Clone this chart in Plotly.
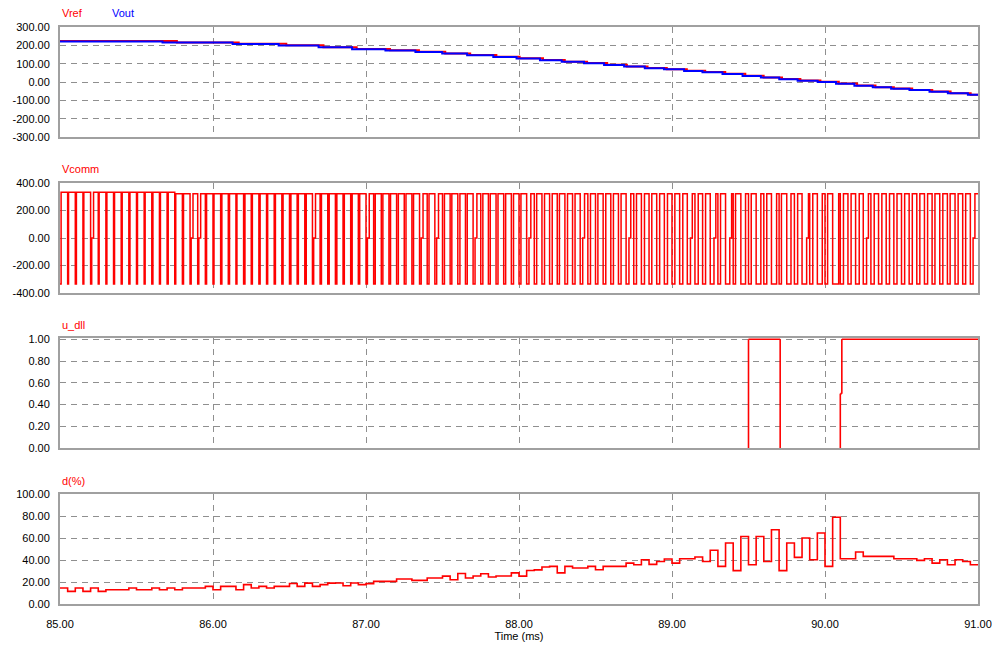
import plotly.graph_objects as go

# ---------------------------------------------------------------------------
# Simulation traces (time in ms)
# ---------------------------------------------------------------------------
T_START, T_END = 85.0, 91.0
PWM_PERIOD = 0.05          # ms, one switching period
ZERO_DWELL = 0.012         # ms, short stop at 0 V on some edges

# Output voltage staircase (step start times and held values)
vout_t = [85.000, 85.670, 86.128, 86.429, 86.690, 86.909, 87.127, 87.323, 87.498,
          87.661, 87.832, 87.984, 88.137, 88.279, 88.425, 88.556, 88.687, 88.822,
          88.948, 89.079, 89.199, 89.330, 89.461, 89.581, 89.701, 89.821, 89.952,
          90.072, 90.192, 90.312, 90.432, 90.552, 90.683, 90.803, 90.934]
vout_v = [221, 215, 207, 199, 189, 179, 172, 164, 155, 146, 137, 128, 119, 110,
          102, 93, 84, 75, 69, 60, 53, 44, 33, 24, 15, 7, 0, -9, -20, -29, -37,
          -44, -53, -62, -70]

# Reference voltage staircase (steps slightly after the output)
vref_t = [85.000, 85.764, 86.168, 86.479, 86.722, 86.939, 87.157, 87.346, 87.518,
          87.681, 87.852, 88.004, 88.157, 88.299, 88.445, 88.576, 88.705, 88.840,
          88.966, 89.097, 89.217, 89.348, 89.479, 89.599, 89.719, 89.839, 89.970,
          90.090, 90.210, 90.330, 90.450, 90.570, 90.701, 90.821, 90.952]
vref_v = [223, 216, 208, 200, 190, 180, 173, 165, 156, 147, 138, 129, 120, 111,
          103, 94, 85, 76, 70, 61, 54, 45, 34, 25, 16, 8, 1, -8, -19, -28, -36,
          -43, -52, -61, -69]

# Duty cycle per switching period, percent (120 periods from 85 ms)
d_pct = [14.5, 11.5, 14.5, 11.5, 14.5, 11.5, 13.0, 13.0, 13.0, 14.5,
         13.0, 13.0, 14.5, 13.0, 14.5, 13.0, 14.5, 14.5, 14.5, 16.0,
         13.0, 16.0, 16.0, 13.0, 17.6, 14.5, 16.0, 14.5, 16.0, 16.0,
         18.6, 16.0, 19.0, 16.0, 17.6, 19.0, 19.1, 16.6, 19.1, 17.6,
         18.5, 20.6, 20.6, 20.6, 22.7, 22.7, 21.5, 21.5, 23.7, 23.7,
         25.3, 22.0, 27.7, 23.7, 25.5, 27.5, 24.5, 25.5, 25.5, 28.3,
         25.3, 30.5, 31.0, 33.6, 34.2, 28.3, 34.2, 32.7, 32.7, 34.2,
         31.2, 34.2, 34.2, 34.2, 37.2, 35.7, 40.2, 36.0, 38.7, 40.9,
         37.2, 41.2, 41.2, 42.7, 38.7, 48.8, 34.2, 55.4, 30.3, 61.4,
         35.7, 61.4, 38.7, 67.5, 30.3, 55.4, 42.4, 60.0, 40.2, 64.5,
         34.2, 78.8, 41.2, 41.2, 47.3, 43.3, 43.3, 43.3, 43.3, 41.2,
         41.2, 41.2, 39.7, 41.2, 37.2, 40.2, 35.7, 40.2, 38.7, 35.7]

# Bridge voltage levels
vcomm_hi_t = [85.00, 85.72]
vcomm_hi_v = [332, 322]
vcomm_lo = -334
vcomm_zero_periods = [4, 17, 18, 33, 40, 47, 49, 54, 61, 68, 74, 82, 85, 87, 97, 105, 119]

# Logic signal u_dll
udll_t = [85.00, 89.50, 89.707, 90.10, 90.11, 91.00]
udll_v = [0, 1, 0, 0.5, 1, 1]

# Axis ticks
x_ticks = [85, 86, 87, 88, 89, 90, 91]
x_ticktext = ["85.00", "86.00", "87.00", "88.00", "89.00", "90.00", "91.00"]
y1_ticks = [-300, -200, -100, 0, 100, 200, 300]
y1_text = ["-300.00", "-200.00", "-100.00", "0.00", "100.00", "200.00", "300.00"]
y2_ticks = [-400, -200, 0, 200, 400]
y2_text = ["-400.00", "-200.00", "0.00", "200.00", "400.00"]
y3_ticks = [0, 0.2, 0.4, 0.6, 0.8, 1.0]
y3_text = ["0.00", "0.20", "0.40", "0.60", "0.80", "1.00"]
y4_ticks = [0, 20, 40, 60, 80, 100]
y4_text = ["0.00", "20.00", "40.00", "60.00", "80.00", "100.00"]

RED = "#FF0000"
BLUE = "#0000FF"
GRID = "#8f8f8f"
FRAME = "#a0a0a0"
FONT = "Liberation Sans"


def stairs(t, v):
    """Close a held-value series at the end of the time window."""
    return list(t) + [T_END], list(v) + [v[-1]]


def hi_level(t):
    lvl = vcomm_hi_v[0]
    for tt, vv in zip(vcomm_hi_t, vcomm_hi_v):
        if t >= tt - 1e-9:
            lvl = vv
    return lvl


# Build the switched bridge voltage from the duty values
vc_x, vc_y = [], []
for k, d in enumerate(d_pct):
    t0 = T_START + k * PWM_PERIOD
    t_rise = t0 + PWM_PERIOD * d / 100.0
    vc_x.append(t0)
    vc_y.append(vcomm_lo)
    if k in vcomm_zero_periods:
        vc_x.append(t_rise)
        vc_y.append(0)
        vc_x.append(t_rise + ZERO_DWELL)
        vc_y.append(hi_level(t0))
    else:
        vc_x.append(t_rise)
        vc_y.append(hi_level(t0))
vc_x.append(T_END)
vc_y.append(vc_y[-1])

# u_dll as segments: the 0-level stretches lie on the frame and are left out
ud_x, ud_y = [], []
for i in range(len(udll_t) - 1):
    t_a, t_b = udll_t[i], udll_t[i + 1]
    v_a, v_b = udll_v[i], udll_v[i + 1]
    if v_a > 0:
        ud_x += [t_a, t_b, None]
        ud_y += [v_a, v_a, None]
    if v_b != v_a:
        ud_x += [t_b, t_b, None]
        ud_y += [v_a, v_b, None]

fig = go.Figure()

x, y = stairs(vref_t, vref_v)
fig.add_trace(go.Scatter(x=x, y=y, mode="lines", line_shape="hv",
                         line=dict(color=RED, width=2), xaxis="x", yaxis="y"))
x, y = stairs(vout_t, vout_v)
fig.add_trace(go.Scatter(x=x, y=y, mode="lines", line_shape="hv",
                         line=dict(color=BLUE, width=2), xaxis="x", yaxis="y"))
fig.add_trace(go.Scatter(x=vc_x, y=vc_y, mode="lines", line_shape="hv",
                         line=dict(color=RED, width=1.5), xaxis="x2", yaxis="y2"))
fig.add_trace(go.Scatter(x=ud_x, y=ud_y, mode="lines", connectgaps=False,
                         line=dict(color=RED, width=1.6), xaxis="x3", yaxis="y3"))
d_t = [T_START + k * PWM_PERIOD for k in range(len(d_pct))]
x, y = stairs(d_t, d_pct)
fig.add_trace(go.Scatter(x=x, y=y, mode="lines", line_shape="hv",
                         line=dict(color=RED, width=1.6), xaxis="x4", yaxis="y4"))

# Panel geometry in pixels (top, bottom) inside a 992x648 page
W, H = 992, 648
ML, MR, MT, MB = 60, 14, 27, 44
PH = H - MT - MB
panels = [(27, 137), (183, 293), (338, 448), (494, 604)]


def py(p):
    return (H - MB - p) / PH


def px(p):
    return (p - ML) / (W - ML - MR)


tickfont = dict(family=FONT, size=11, color="black")
common_x = dict(range=[T_START, T_END], tickvals=x_ticks, ticktext=x_ticktext,
                showgrid=True, gridcolor=GRID, gridwidth=1, griddash="6px,5px",
                showline=True, mirror=True, linecolor=FRAME, linewidth=2,
                ticks="", zeroline=False, tickfont=tickfont, automargin=False)
common_y = dict(showgrid=True, gridcolor=GRID, gridwidth=1, griddash="6px,5px",
                showline=True, mirror=True, linecolor=FRAME, linewidth=2,
                ticks="", zeroline=False, tickfont=tickfont, ticklabelstandoff=6,
                automargin=False)

layout = dict(width=W, height=H, margin=dict(l=ML, r=MR, t=MT, b=MB),
              paper_bgcolor="white", plot_bgcolor="white", showlegend=False)

yranges = [[-300, 300], [-400, 400], [0, 1.012], [0, 100]]
yticks = [(y1_ticks, y1_text), (y2_ticks, y2_text), (y3_ticks, y3_text), (y4_ticks, y4_text)]

for i, (top, bot) in enumerate(panels, start=1):
    sx = "" if i == 1 else str(i)
    xa = dict(common_x, anchor="y" + sx, domain=[0, 1],
              showticklabels=(i == 4))
    if i != 1:
        xa["matches"] = "x"
    if i == 4:
        xa["ticklabelstandoff"] = 9
        xa["title"] = dict(text="Time (ms)", standoff=3,
                           font=dict(family=FONT, size=11, color="black"))
    ya = dict(common_y, anchor="x" + sx, domain=[py(bot), py(top)],
              range=yranges[i - 1], tickvals=yticks[i - 1][0],
              ticktext=yticks[i - 1][1])
    layout["xaxis" + sx] = xa
    layout["yaxis" + sx] = ya

titles = [("Vref", 60, 13, RED), ("Vout", 110, 13, BLUE), ("Vcomm", 60, 169, RED),
          ("u_dll", 60, 325, RED), ("d(%)", 60, 481, RED)]
annotations = []
for text, xp, yp, col in titles:
    annotations.append(dict(text=text, x=px(xp), y=py(yp), xref="paper", yref="paper",
                            xanchor="left", yanchor="middle", showarrow=False,
                            font=dict(family=FONT, size=11, color=col)))
layout["annotations"] = annotations

fig.update_layout(**layout)
fig.write_html("out.html")
